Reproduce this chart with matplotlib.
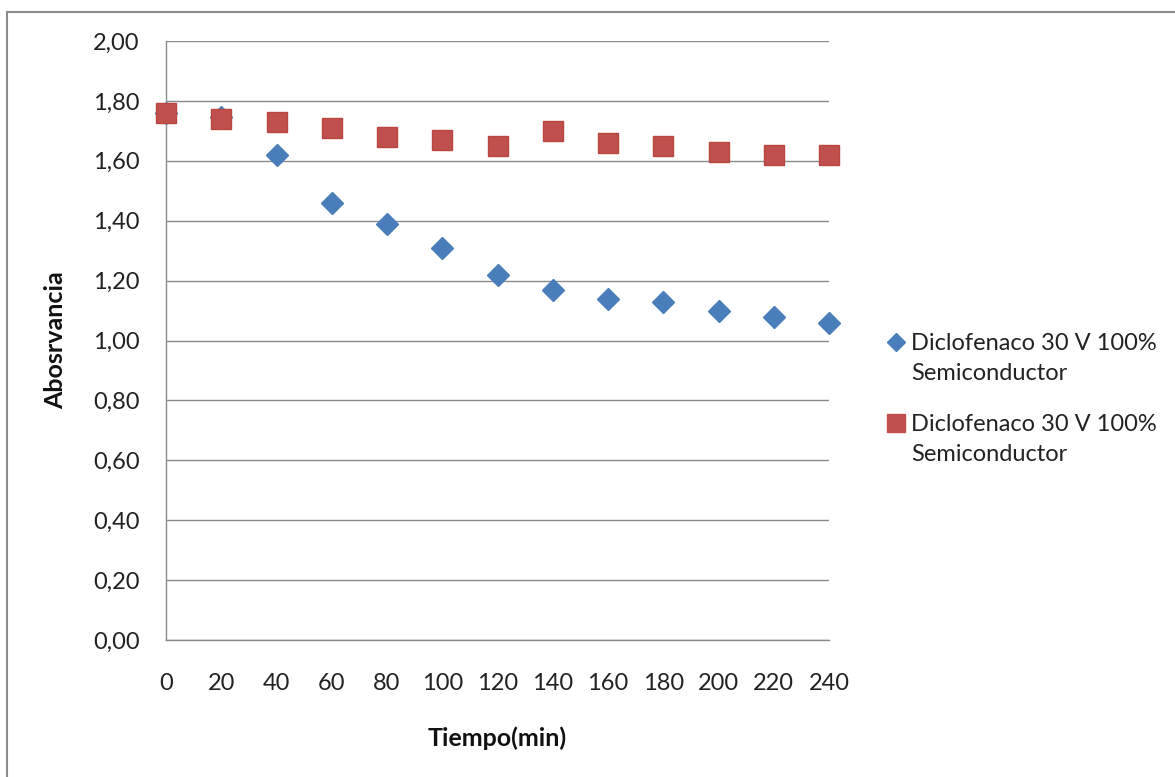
import matplotlib
matplotlib.use("Agg")
import matplotlib.pyplot as plt
from matplotlib.patches import Rectangle
from matplotlib.ticker import FuncFormatter
from matplotlib.lines import Line2D
from matplotlib.legend_handler import HandlerLine2D

plt.rcParams['font.family'] = ['Lato', 'DejaVu Sans']

tiempo = [0, 20, 40, 60, 80, 100, 120, 140, 160, 180, 200, 220, 240]
serie_azul = [1.76, 1.745, 1.62, 1.46, 1.39, 1.31, 1.22, 1.17, 1.14, 1.13, 1.10, 1.08, 1.06]
serie_roja = [1.76, 1.74, 1.73, 1.71, 1.68, 1.67, 1.65, 1.70, 1.66, 1.65, 1.63, 1.62, 1.62]
etiqueta_azul = "Diclofenaco 30 V 100%\nSemiconductor"
etiqueta_roja = "Diclofenaco 30 V 100%\nSemiconductor"
y_ticks = [0.0, 0.2, 0.4, 0.6, 0.8, 1.0, 1.2, 1.4, 1.6, 1.8, 2.0]

W, H = 1175, 777
fig = plt.figure(figsize=(W / 100, H / 100), dpi=100)
fig.patch.set_facecolor('white')

# outer chart frame
fig.patches.append(Rectangle((7 / W, -0.1), 1.2, 1 - 12 / H + 0.1, transform=fig.transFigure,
                             fill=False, edgecolor='#8c8c8c', linewidth=1.5, zorder=0))

ax = fig.add_axes([166 / W, 1 - 640 / H, (829 - 166) / W, (640 - 41) / H])
ax.set_xlim(0, 240)
ax.set_ylim(0, 2.0)
ax.set_yticks(y_ticks)
ax.set_xticks(tiempo)
ax.yaxis.set_major_formatter(FuncFormatter(lambda v, p: f"{v:.2f}".replace('.', ',')))
ax.grid(axis='y', color='#8a8a8a', linewidth=1.0)
ax.set_axisbelow(True)
for s in ['top', 'right']:
    ax.spines[s].set_visible(False)
for s in ['left', 'bottom']:
    ax.spines[s].set_color('#8a8a8a')
    ax.spines[s].set_linewidth(1.0)
ax.tick_params(axis='both', length=0, labelsize=17, colors='#222222')
ax.tick_params(axis='y', pad=19)
ax.tick_params(axis='x', pad=24)

ax.plot(tiempo, serie_azul, linestyle='none', marker='D', markersize=11,
        color='#4a7ebb', markeredgecolor='#4a7ebb', label=etiqueta_azul, clip_on=False, zorder=3)
ax.plot(tiempo, serie_roja, linestyle='none', marker='s', markersize=14.5,
        color='#c0504d', markeredgecolor='#b8463f', label=etiqueta_roja, clip_on=False, zorder=4)

ax.set_xlabel("Tiempo(min)", fontsize=18, fontweight='bold', color='#111111')
ax.set_ylabel("Abosrvancia", fontsize=18, fontweight='bold', color='#111111')
ax.xaxis.set_label_coords(0.5, -0.145)
ax.yaxis.set_label_coords(-0.149, 0.5)


class TopHandler(HandlerLine2D):
    def create_artists(self, legend, orig_handle, xdescent, ydescent, width, height,
                       fontsize, trans):
        arts = super().create_artists(legend, orig_handle, xdescent, ydescent, width,
                                      height, fontsize, trans)
        for a in arts:
            a.set_ydata([y + 12 for y in a.get_ydata()])
        return arts


h, l = ax.get_legend_handles_labels()
h2 = [Line2D([], [], linestyle='none', marker='D', markersize=9, color='#4a7ebb'),
      Line2D([], [], linestyle='none', marker='s', markersize=12.5, color='#c0504d')]
leg = fig.legend(h2, l, loc='upper left', bbox_to_anchor=(889 / W, 1 - 333 / H), frameon=False,
                 fontsize=17, handlelength=0.6, handletextpad=0.35, labelspacing=1.3,
                 borderaxespad=0, borderpad=0,
                 handler_map={Line2D: TopHandler()})
for t in leg.get_texts():
    t.set_linespacing(1.5)
    t.set_color('#222222')

fig.savefig("out.png", dpi=100, facecolor='white')
